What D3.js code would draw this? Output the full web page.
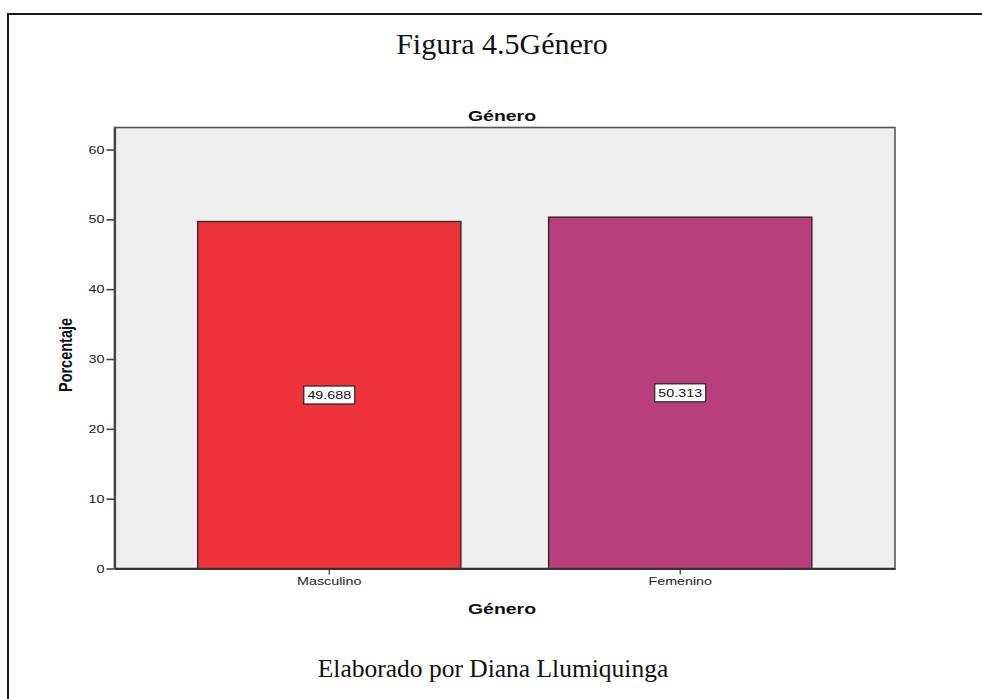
<!DOCTYPE html>
<html>
<head>
<meta charset="utf-8">
<script src="https://cdn.jsdelivr.net/npm/d3@7"></script>
<style>
  html, body { margin: 0; padding: 0; background: #ffffff; }
  svg { display: block; }
</style>
</head>
<body>
<svg id="chart" width="982" height="699"></svg>
<script>
// Distribución por género (porcentaje)
const categories = ["Masculino", "Femenino"];
const values = [49.688, 50.313];
const valueLabels = ["49.688", "50.313"];
const barColors = ["#ef333b", "#b93f7c"];
const yTicks = [0, 10, 20, 30, 40, 50, 60];

const svg = d3.select("#chart");
const W = 982, H = 699;
const SANS = "'Liberation Sans', Arial, sans-serif";
const SERIF = "'Liberation Serif', 'Times New Roman', serif";
const SX = 1.3; // horizontal stretch of the chart's lettering

// Outer document frame
svg.append("rect")
  .attr("x", 8).attr("y", 14)
  .attr("width", W + 10).attr("height", H + 10)
  .attr("fill", "#ffffff").attr("stroke", "#1a1a1a").attr("stroke-width", 2);

// Figure caption
svg.append("text")
  .attr("x", 502).attr("y", 54)
  .attr("text-anchor", "middle")
  .attr("font-family", SERIF)
  .attr("font-size", 30)
  .attr("fill", "#111")
  .text("Figura 4.5Género");

// Plot area
const plot = { left: 114.5, top: 127.5, right: 895, bottom: 568.5 };

const x = d3.scaleBand()
  .domain(categories)
  .range([plot.left, plot.right])
  .paddingInner(0.25)
  .paddingOuter(0.237);

const y = d3.scaleLinear()
  .domain([0, 63.15])
  .range([plot.bottom, plot.top]);

svg.append("rect")
  .attr("x", plot.left).attr("y", plot.top)
  .attr("width", plot.right - plot.left).attr("height", plot.bottom - plot.top)
  .attr("fill", "#eeeeee").attr("stroke", "#555555").attr("stroke-width", 1.6);

// Helper: stretched sans-serif label
function stretchedText(px, py, txt, size, bold) {
  return svg.append("text")
    .attr("transform", `translate(${px},${py}) scale(${SX},1)`)
    .attr("text-anchor", "middle")
    .attr("font-family", SANS)
    .attr("font-weight", bold ? "bold" : "normal")
    .attr("font-size", size)
    .attr("fill", "#111")
    .text(txt);
}

// Chart title
stretchedText(502, 121, "Género", 15, true);

// Bars
svg.selectAll("rect.bar")
  .data(categories)
  .enter().append("rect")
  .attr("class", "bar")
  .attr("x", d => x(d))
  .attr("y", (d, i) => y(values[i]))
  .attr("width", x.bandwidth())
  .attr("height", (d, i) => y(0) - y(values[i]))
  .attr("fill", (d, i) => barColors[i])
  .attr("stroke", "#2b2b2b").attr("stroke-width", 1.4);

// Value labels in boxes at mid-height of each bar
const lab = svg.selectAll("g.vlabel")
  .data(categories)
  .enter().append("g")
  .attr("class", "vlabel")
  .attr("transform", (d, i) => `translate(${x(d) + x.bandwidth() / 2},${y(values[i] / 2)})`);

lab.append("rect")
  .attr("x", -25.5).attr("y", -9)
  .attr("width", 51).attr("height", 18)
  .attr("fill", "#ffffff").attr("stroke", "#222").attr("stroke-width", 1.2);

lab.append("text")
  .attr("transform", `scale(${SX},1)`)
  .attr("text-anchor", "middle")
  .attr("dy", "0.36em")
  .attr("font-family", SANS)
  .attr("font-size", 11)
  .attr("fill", "#111")
  .text((d, i) => valueLabels[i]);

// Y axis
const yAxis = svg.append("g")
  .attr("transform", `translate(${plot.left},0)`)
  .call(d3.axisLeft(y).tickValues(yTicks).tickSize(8).tickSizeOuter(0).tickPadding(2));
yAxis.select(".domain").attr("stroke", "#444").attr("stroke-width", 2.2);
yAxis.selectAll(".tick line").attr("stroke", "#444").attr("stroke-width", 1.6);
yAxis.selectAll(".tick text")
  .attr("x", -10 / SX)
  .attr("transform", `scale(${SX},1)`)
  .attr("font-family", SANS)
  .attr("font-size", 11).attr("fill", "#222");

// X axis
const xAxis = svg.append("g")
  .attr("transform", `translate(0,${plot.bottom})`)
  .call(d3.axisBottom(x).tickSize(6).tickSizeOuter(0).tickPadding(3));
xAxis.select(".domain").attr("stroke", "#333").attr("stroke-width", 2);
xAxis.selectAll(".tick line").attr("stroke", "#333").attr("stroke-width", 1.2);
xAxis.selectAll(".tick text")
  .attr("transform", `scale(${SX},1)`)
  .attr("font-family", SANS)
  .attr("font-size", 11).attr("fill", "#222");

// Axis titles
stretchedText(502, 614, "Género", 15, true);

svg.append("text")
  .attr("transform", `translate(72,355) scale(${SX},1) rotate(-90)`)
  .attr("text-anchor", "middle")
  .attr("font-family", SANS)
  .attr("font-weight", "bold")
  .attr("font-size", 14.5)
  .attr("fill", "#111")
  .text("Porcentaje");

// Footer credit
svg.append("text")
  .attr("x", 493).attr("y", 677)
  .attr("text-anchor", "middle")
  .attr("font-family", SERIF)
  .attr("font-size", 25.5)
  .attr("fill", "#111")
  .text("Elaborado por Diana Llumiquinga");
</script>
</body>
</html>
